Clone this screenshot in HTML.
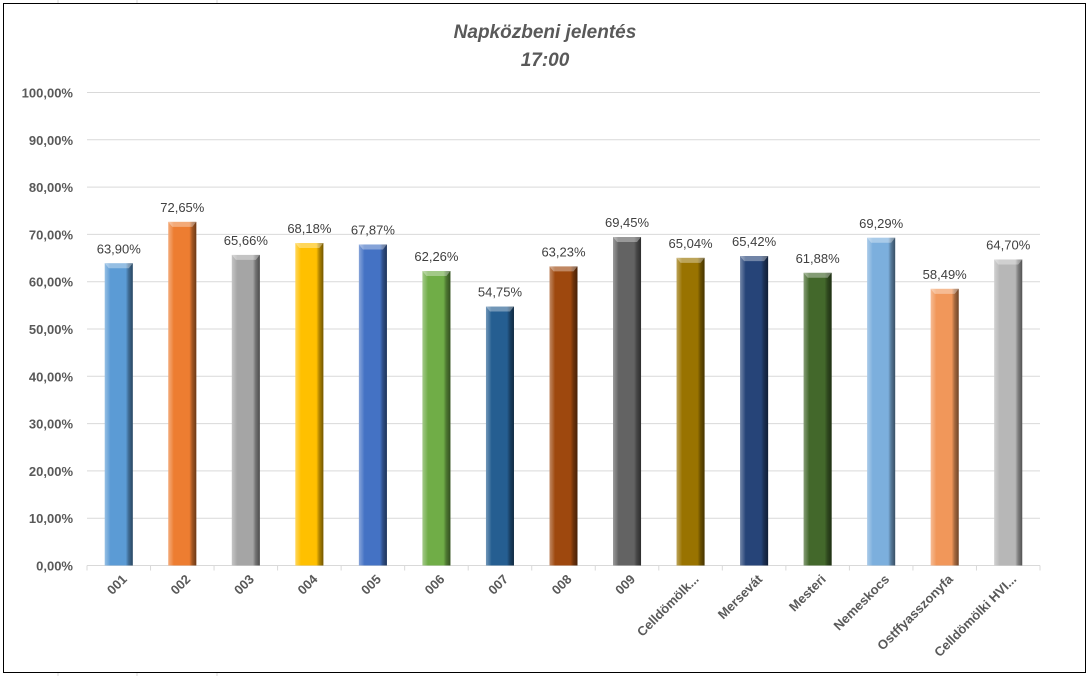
<!DOCTYPE html>
<html><head><meta charset="utf-8"><style>
body{margin:0;background:#fff;}
svg{display:block;font-family:"Liberation Sans",sans-serif;}
</style></head><body>
<svg width="1091" height="676" viewBox="0 0 1091 676" xmlns="http://www.w3.org/2000/svg">
<defs>
<linearGradient id="shade" x1="0" x2="1" y1="0" y2="0">
<stop offset="0" stop-color="#fff" stop-opacity="0.35"/>
<stop offset="0.12" stop-color="#fff" stop-opacity="0.15"/>
<stop offset="0.2" stop-color="#fff" stop-opacity="0"/>
<stop offset="0.75" stop-color="#000" stop-opacity="0"/>
<stop offset="0.85" stop-color="#000" stop-opacity="0.3"/>
<stop offset="1" stop-color="#000" stop-opacity="0.55"/>
</linearGradient>
</defs>
<g stroke="#d9d9d9" stroke-width="1">
<line x1="58" y1="0" x2="58" y2="3"/><line x1="137" y1="0" x2="137" y2="3"/><line x1="217" y1="0" x2="217" y2="3"/>
<line x1="58" y1="673" x2="58" y2="676"/><line x1="137" y1="673" x2="137" y2="676"/><line x1="217" y1="673" x2="217" y2="676"/>
</g>
<rect x="3.5" y="3.5" width="1082" height="669" fill="#fff" stroke="#000" stroke-width="1"/>
<text x="545" y="38" text-anchor="middle" font-size="19" font-weight="bold" font-style="italic" fill="#595959">Napközbeni jelentés</text>
<text x="545" y="66" text-anchor="middle" font-size="19" font-weight="bold" font-style="italic" fill="#595959">17:00</text>
<g id="grid" stroke="#d9d9d9" stroke-width="1"></g>
<g id="ylab" font-size="13" font-weight="bold" fill="#595959" text-anchor="end"></g>
<g id="bars"></g>
<g id="xlab" font-size="13" font-weight="bold" fill="#595959" text-anchor="end"></g>
<script>
var ns="http://www.w3.org/2000/svg";
function el(t,a,p,txt){var e=document.createElementNS(ns,t);for(var k in a)e.setAttribute(k,a[k]);if(txt)e.textContent=txt;document.getElementById(p).appendChild(e);return e;}
var y0=565.5,ppp=4.73,x0=87,x1=1040,w=(x1-x0)/15;
for(var i=0;i<=10;i++){var y=y0-i*10*ppp;el('line',{x1:x0,x2:x1,y1:y,y2:y},'grid');el('text',{x:73,y:y+5},'ylab',(i*10)+',00%');}
for(var i=0;i<=15;i++){var x=x0+i*w;el('line',{x1:x,x2:x,y1:y0,y2:y0+5},'grid');}
var d=[["001",63.90,"#5B9BD5"],["002",72.65,"#ED7D31"],["003",65.66,"#A5A5A5"],["004",68.18,"#FFC000"],["005",67.87,"#4472C4"],["006",62.26,"#70AD47"],["007",54.75,"#255E91"],["008",63.23,"#9E480E"],["009",69.45,"#636363"],["Celldömölk...",65.04,"#997300"],["Mersevát",65.42,"#264478"],["Mesteri",61.88,"#43682B"],["Nemeskocs",69.29,"#7CAFDD"],["Ostffyasszonyfa",58.49,"#F1975A"],["Celldömölki HVI...",64.70,"#B7B7B7"]];
d.forEach(function(r,i){var c=x0+w*(i+0.5),h=r[1]*ppp,y=y0-h;
el('rect',{x:c-14,y:y,width:28,height:h,fill:r[2]},'bars');
el('rect',{x:c-14,y:y,width:28,height:h,fill:'url(#shade)'},'bars');
el('polygon',{points:(c-14)+','+y+' '+(c+14)+','+y+' '+(c+10)+','+(y+5)+' '+(c-10)+','+(y+5),fill:'#fff','fill-opacity':0.35},'bars');
el('text',{x:c,y:y-10,'text-anchor':'middle','font-size':13,fill:'#404040'},'bars',r[1].toFixed(2).replace('.',',')+'%');
el('text',{x:c+9,y:580,transform:'rotate(-45 '+(c+9)+' 580)'},'xlab',r[0]);
});
</script>
</svg>
</body></html>
